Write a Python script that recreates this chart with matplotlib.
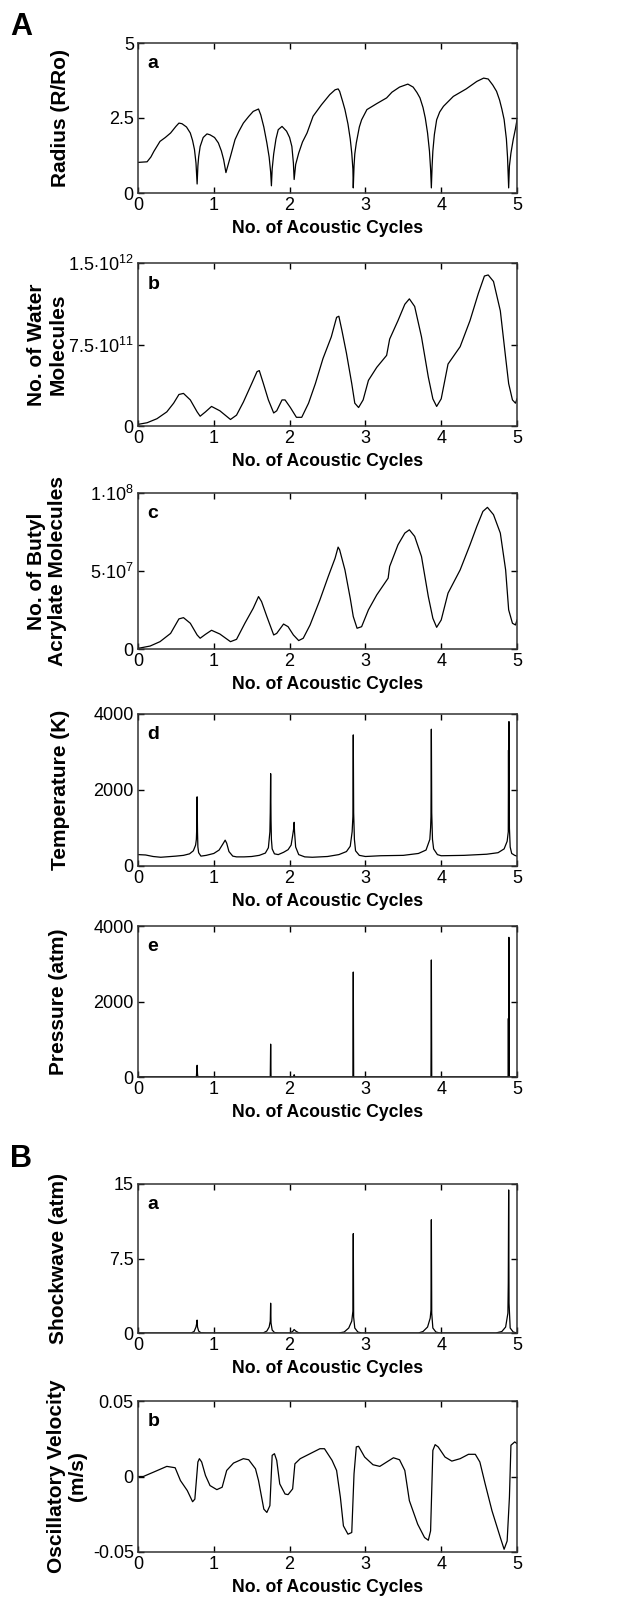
import matplotlib
matplotlib.use("Agg")
import matplotlib.pyplot as plt
import numpy as np

plt.rcParams['font.family'] = ['Liberation Sans', 'DejaVu Sans']
plt.rcParams['mathtext.fontset'] = 'custom'
plt.rcParams['mathtext.rm'] = 'Liberation Sans'
plt.rcParams['mathtext.it'] = 'Liberation Sans:italic'
plt.rcParams['mathtext.bf'] = 'Liberation Sans:bold'

# ---- datos ----
# A-a: radio
radio_x = [0, 0.12, 0.17, 0.21, 0.29, 0.36, 0.43, 0.50, 0.54, 0.58, 0.64, 0.69, 0.72, 0.745, 0.765,
           0.78, 0.79, 0.80, 0.82, 0.86, 0.91, 0.95, 1.01, 1.06, 1.10, 1.13, 1.16, 1.19, 1.22, 1.28,
           1.33, 1.39, 1.46, 1.52, 1.59, 1.62, 1.66, 1.70, 1.73, 1.75, 1.76, 1.77, 1.79, 1.82, 1.85,
           1.90, 1.96, 2.00, 2.03, 2.05, 2.06, 2.08, 2.12, 2.17, 2.23, 2.31, 2.42, 2.53, 2.60, 2.64,
           2.66, 2.70, 2.73, 2.77, 2.80, 2.82, 2.835, 2.84, 2.85, 2.86, 2.88, 2.92, 2.95, 3.02, 3.15,
           3.28, 3.35, 3.45, 3.56, 3.63, 3.68, 3.72, 3.76, 3.79, 3.82, 3.845, 3.86, 3.87, 3.88, 3.89,
           3.91, 3.94, 3.98, 4.03, 4.16, 4.33, 4.47, 4.56, 4.62, 4.68, 4.73, 4.77, 4.80, 4.83, 4.86,
           4.875, 4.89, 4.90, 4.92, 4.95, 4.98, 5.0]
radio_y = [1.02, 1.04, 1.2, 1.39, 1.72, 1.85, 2.0, 2.22, 2.33, 2.31, 2.2, 2.0, 1.75, 1.45, 1.0,
           0.3, 0.9, 1.2, 1.55, 1.85, 1.97, 1.94, 1.85, 1.67, 1.4, 1.11, 0.68, 0.95, 1.22, 1.78,
           2.05, 2.33, 2.55, 2.72, 2.8, 2.6, 2.2, 1.67, 1.2, 0.7, 0.24, 0.8, 1.3, 1.8, 2.11,
           2.22, 2.06, 1.85, 1.55, 1.0, 0.45, 0.95, 1.33, 1.7, 2.0, 2.56, 2.94, 3.28, 3.44, 3.47,
           3.39, 3.05, 2.78, 2.3, 1.8, 1.33, 0.8, 0.17, 0.9, 1.3, 1.67, 2.2, 2.44, 2.78, 2.98,
           3.17, 3.36, 3.53, 3.63, 3.53, 3.35, 3.17, 2.85, 2.5, 2.0, 1.4, 0.8, 0.17, 0.9, 1.4,
           1.95, 2.44, 2.7, 2.89, 3.22, 3.47, 3.72, 3.83, 3.8, 3.6, 3.39, 3.1, 2.8, 2.45, 1.8,
           1.2, 0.17, 0.9, 1.33, 1.78, 2.15, 2.44]

# A-b: moleculas de agua (x 1e12)
agua_x = [0, 0.12, 0.25, 0.38, 0.47, 0.54, 0.60, 0.69, 0.78, 0.82, 0.89, 0.97, 1.08, 1.22, 1.30,
          1.39, 1.50, 1.57, 1.60, 1.65, 1.72, 1.79, 1.83, 1.90, 1.94, 2.01, 2.09, 2.16, 2.25, 2.34,
          2.44, 2.55, 2.62, 2.65, 2.69, 2.75, 2.82, 2.86, 2.91, 2.97, 3.04, 3.15, 3.28, 3.32, 3.43,
          3.52, 3.58, 3.65, 3.74, 3.83, 3.89, 3.94, 4.00, 4.09, 4.25, 4.38, 4.49, 4.57, 4.62, 4.69,
          4.78, 4.85, 4.89, 4.94, 4.98, 5.0]
agua_y = [0.015, 0.03, 0.067, 0.13, 0.21, 0.29, 0.30, 0.24, 0.13, 0.09, 0.13, 0.18, 0.14, 0.06, 0.10,
          0.22, 0.39, 0.50, 0.51, 0.40, 0.24, 0.12, 0.14, 0.24, 0.24, 0.17, 0.08, 0.08, 0.21, 0.39,
          0.62, 0.82, 1.0, 1.01, 0.88, 0.67, 0.39, 0.21, 0.17, 0.24, 0.42, 0.54, 0.65, 0.80, 0.97,
          1.12, 1.17, 1.10, 0.82, 0.45, 0.25, 0.18, 0.25, 0.57, 0.73, 0.97, 1.22, 1.38, 1.39, 1.33,
          1.06, 0.63, 0.39, 0.24, 0.21, 0.25]

# A-c: moleculas de acrilato de butilo (x 1e7)
butil_x = [0, 0.16, 0.29, 0.43, 0.54, 0.60, 0.69, 0.78, 0.82, 0.89, 0.97, 1.08, 1.22, 1.30, 1.41,
           1.52, 1.59, 1.63, 1.70, 1.79, 1.83, 1.92, 1.98, 2.05, 2.12, 2.18, 2.27, 2.40, 2.51, 2.60,
           2.64, 2.66, 2.73, 2.80, 2.84, 2.89, 2.95, 3.04, 3.15, 3.30, 3.32, 3.43, 3.52, 3.58, 3.65,
           3.74, 3.83, 3.89, 3.94, 4.00, 4.09, 4.25, 4.38, 4.47, 4.55, 4.61, 4.69, 4.78, 4.85, 4.89,
           4.94, 4.98, 5.0]
butil_y = [0.04, 0.19, 0.47, 1.0, 1.93, 2.01, 1.65, 0.9, 0.69, 0.94, 1.2, 0.96, 0.47, 0.62, 1.65,
           2.61, 3.36, 3.04, 2.08, 0.9, 1.0, 1.6, 1.43, 0.9, 0.54, 0.69, 1.54, 3.15, 4.65, 5.82,
           6.53, 6.36, 5.07, 3.25, 2.08, 1.33, 1.43, 2.51, 3.47, 4.54, 5.29, 6.68, 7.43, 7.64, 7.22,
           5.93, 3.36, 1.97, 1.39, 1.86, 3.58, 5.07, 6.68, 7.86, 8.82, 9.08, 8.61, 7.43, 5.07, 2.51,
           1.65, 1.54, 1.86]

# A-d: temperatura (K)
temp_x = [0, 0.10, 0.20, 0.30, 0.40, 0.50, 0.60, 0.68, 0.73, 0.76, 0.77, 0.775, 0.78, 0.785, 0.79,
          0.80, 0.83, 0.90, 1.00, 1.07, 1.12, 1.15, 1.17, 1.20, 1.25, 1.30, 1.40, 1.50, 1.60, 1.68,
          1.72, 1.74, 1.745, 1.75, 1.755, 1.76, 1.77, 1.80, 1.85, 1.92, 1.98, 2.02, 2.04, 2.055, 2.06,
          2.065, 2.08, 2.12, 2.20, 2.30, 2.50, 2.65, 2.75, 2.80, 2.825, 2.835, 2.84, 2.845, 2.855, 2.87,
          2.92, 3.00, 3.20, 3.50, 3.70, 3.80, 3.85, 3.86, 3.865, 3.87, 3.875, 3.885, 3.90, 3.95, 4.00,
          4.30, 4.60, 4.75, 4.83, 4.87, 4.885, 4.888, 4.891, 4.894, 4.90, 4.91, 4.93, 4.97, 5.0]
temp_y = [300, 290, 250, 230, 245, 260, 280, 320, 400, 550, 700, 1000, 1820, 900, 500,
          350, 260, 280, 330, 420, 580, 680, 600, 380, 260, 240, 240, 250, 280, 340,
          480, 900, 1400, 2430, 1200, 700, 450, 320, 300, 360, 430, 550, 800, 1000, 1150,
          900, 500, 300, 240, 230, 250, 300, 380, 520, 900, 1300, 3450, 1400, 700, 400,
          280, 250, 270, 280, 330, 420, 700, 1000, 1300, 3600, 1400, 700, 450, 300, 270,
          280, 310, 350, 450, 650, 900, 3050, 1200, 3800, 1000, 500, 330, 280, 260]

# A-e: presion (atm)
pres_x = [0, 0.77, 0.775, 0.78, 0.785, 0.79, 1.745, 1.75, 1.755, 2.055, 2.06, 2.07, 2.835, 2.84,
          2.845, 3.865, 3.87, 3.875, 4.884, 4.886, 4.888, 4.891, 4.893, 4.896, 5.0]
pres_y = [5, 5, 150, 310, 80, 5, 5, 870, 5, 5, 60, 5, 5, 2780,
          5, 5, 3100, 5, 5, 1550, 5, 5, 3700, 5, 5]

# B-a: onda de choque (atm)
choque_x = [0, 0.70, 0.74, 0.765, 0.775, 0.78, 0.785, 0.80, 0.83, 0.90,
            1.65, 1.70, 1.73, 1.745, 1.75, 1.755, 1.77, 1.80, 1.85,
            2.00, 2.04, 2.06, 2.08, 2.12, 2.15,
            2.65, 2.72, 2.78, 2.82, 2.835, 2.84, 2.845, 2.86, 2.90, 2.95,
            3.70, 3.76, 3.82, 3.855, 3.865, 3.87, 3.875, 3.89, 3.93, 3.98,
            4.72, 4.80, 4.85, 4.88, 4.885, 4.89, 4.895, 4.91, 4.95, 5.0]
choque_y = [0, 0, 0.15, 0.6, 1.0, 1.3, 0.6, 0.2, 0.02, 0,
            0, 0.2, 0.6, 1.2, 3.0, 1.0, 0.3, 0.05, 0,
            0, 0.15, 0.35, 0.2, 0.02, 0,
            0, 0.1, 0.5, 1.2, 2.2, 10.0, 1.6, 0.5, 0.1, 0,
            0, 0.15, 0.6, 1.5, 2.3, 11.4, 2.0, 0.5, 0.1, 0,
            0, 0.15, 0.6, 2.0, 5.0, 14.4, 3.0, 0.5, 0.1, 0]

# B-b: velocidad oscilatoria (m/s)
vel_x = [0, 0.07, 0.21, 0.38, 0.49, 0.56, 0.65, 0.72, 0.75, 0.79, 0.81, 0.84, 0.89, 0.95, 1.04,
         1.11, 1.17, 1.26, 1.39, 1.46, 1.55, 1.59, 1.66, 1.70, 1.74, 1.77, 1.80, 1.83, 1.87, 1.94,
         1.98, 2.04, 2.07, 2.14, 2.27, 2.40, 2.46, 2.56, 2.62, 2.67, 2.71, 2.77, 2.82, 2.85, 2.88,
         2.91, 2.99, 3.10, 3.19, 3.30, 3.37, 3.45, 3.52, 3.58, 3.69, 3.78, 3.83, 3.86, 3.89, 3.92,
         3.96, 4.05, 4.14, 4.25, 4.36, 4.45, 4.51, 4.58, 4.67, 4.78, 4.83, 4.87, 4.90, 4.92, 4.97, 5.0]
vel_y = [0, 0, 0.003, 0.0067, 0.0058, -0.0027, -0.0093, -0.0167, -0.015, 0.0096, 0.0118, 0.0096,
         0.0007, -0.006, -0.0087, -0.0071, 0.004, 0.0089, 0.0118, 0.0111, 0.0051, -0.0027, -0.0216,
         -0.0238, -0.0193, 0.014, 0.0151, 0.0107, -0.0049, -0.0116, -0.012, -0.0082, 0.0084, 0.0118,
         0.0151, 0.0184, 0.0184, 0.0107, 0.004, -0.0138, -0.0327, -0.0382, -0.0371, 0.0018, 0.0196,
         0.02, 0.0129, 0.0078, 0.0067, 0.0102, 0.0124, 0.0111, 0.004, -0.016, -0.0316, -0.0404,
         -0.0422, -0.036, 0.0173, 0.0211, 0.0196, 0.0129, 0.0102, 0.0118, 0.0147, 0.0147, 0.0096,
         -0.0049, -0.0227, -0.0404, -0.0482, -0.0427, -0.0138, 0.0207, 0.0229, 0.0218]

# ---- figura ----
W, H = 624, 1605
fig = plt.figure(figsize=(W / 100, H / 100), dpi=100)

def ejes(y_top, y_bot):
    return fig.add_axes([138 / W, 1 - y_bot / H, 379 / W, (y_bot - y_top) / H])

paneles = [
    (43, 193, radio_x, radio_y, 1, [0, 2.5, 5], ['0', '2.5', '5'], 'Radius (R/Ro)', 'a', -0.179),
    (263, 426, agua_x, agua_y, 1e12, [0, 7.5e11, 1.5e12],
     ['0', r'7.5$\cdot$10$^{11}$', r'1.5$\cdot$10$^{12}$'], 'No. of Water\nMolecules', 'b', -0.187),
    (493, 649, butil_x, butil_y, 1e7, [0, 5e7, 1e8],
     ['0', r'5$\cdot$10$^{7}$', r'1$\cdot$10$^{8}$'], 'No. of Butyl\nAcrylate Molecules', 'c', -0.187),
    (714, 866, temp_x, temp_y, 1, [0, 2000, 4000], ['0', '2000', '4000'], 'Temperature (K)', 'd', -0.179),
    (926, 1077, pres_x, pres_y, 1, [0, 2000, 4000], ['0', '2000', '4000'], 'Pressure (atm)', 'e', -0.185),
    (1184, 1333, choque_x, choque_y, 1, [0, 7.5, 15], ['0', '7.5', '15'], 'Shockwave (atm)', 'a', -0.185),
    (1401, 1552, vel_x, vel_y, 1, [-0.05, 0, 0.05], ['-0.05', '0', '0.05'],
     'Oscillatory Velocity\n(m/s)', 'b', -0.135),
]

for y_top, y_bot, xs, ys, escala, yt, ytl, ylab, letra, lx in paneles:
    ax = ejes(y_top, y_bot)
    ax.plot(xs, np.array(ys) * escala, color='black', lw=0.9)
    ax.set_xlim(0, 5)
    ax.set_ylim(yt[0], yt[-1])
    ax.set_xticks([0, 1, 2, 3, 4, 5])
    ax.set_xticklabels(['0', '1', '2', '3', '4', '5'])
    ax.set_yticks(yt)
    ax.set_yticklabels(ytl)
    ax.tick_params(direction='in', top=True, right=True, length=4, width=1,
                   labelsize=13, pad=3)
    for s in ax.spines.values():
        s.set_linewidth(1.1)
        s.set_color('#333333')
    ax.set_xlabel('No. of Acoustic Cycles', fontsize=12.7, fontweight='bold', labelpad=4)
    ax.set_ylabel(ylab, fontsize=15, fontweight='bold', linespacing=1.15)
    ax.yaxis.set_label_coords(lx, 0.5)
    ax.text(0.025, 0.92, letra, transform=ax.transAxes, fontsize=14,
            fontweight='bold', va='top', ha='left')

fig.text(10 / W, 1 - 12 / H, 'A', fontsize=22, fontweight='bold', va='top', ha='left')
fig.text(10 / W, 1 - 1144 / H, 'B', fontsize=22, fontweight='bold', va='top', ha='left')

fig.savefig('out.png', dpi=100)
